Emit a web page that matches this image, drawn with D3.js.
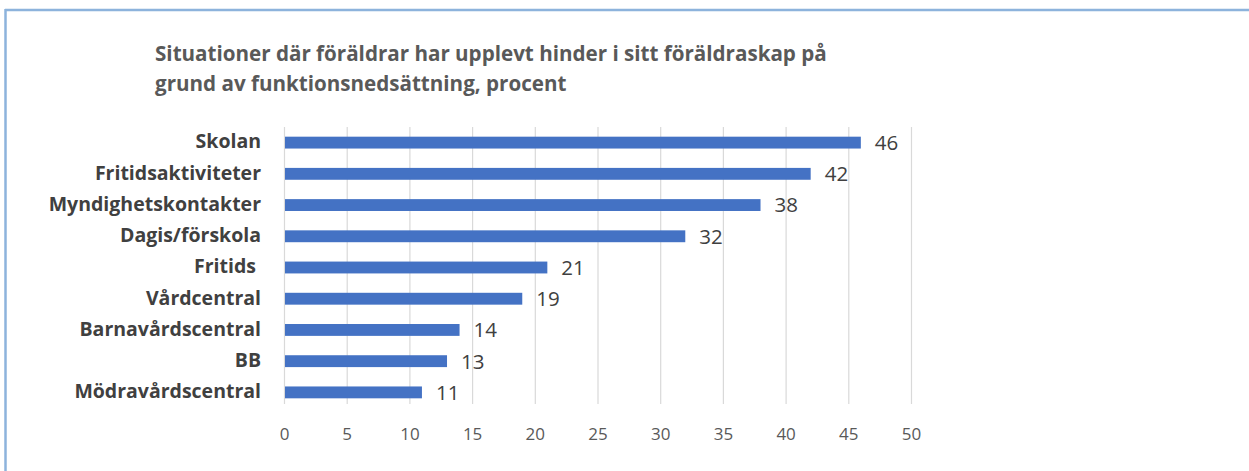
<!DOCTYPE html>
<html><head><meta charset="utf-8">
<script src="https://cdn.jsdelivr.net/npm/d3@7"></script>
<style>body{margin:0;background:#fff}svg{display:block}</style>
</head><body>
<script>
const categories = ["Skolan","Fritidsaktiviteter","Myndighetskontakter","Dagis/förskola","Fritids ","Vårdcentral","Barnavårdscentral","BB","Mödravårdscentral"];
const values = [46,42,38,32,21,19,14,13,11];
const ticks = [0,5,10,15,20,25,30,35,40,45,50];
const titleLines = ["Situationer där föräldrar har upplevt hinder i sitt föräldraskap på","grund av funktionsnedsättning, procent"];

const W=1249,H=471;
const svg=d3.select("body").append("svg").attr("width",W).attr("height",H);
const font="'Open Sans', Lato, sans-serif";

// frame
svg.append("line").attr("x1",5).attr("x2",W).attr("y1",10).attr("y2",10).attr("stroke","#8db3dc").attr("stroke-width",2.5);
svg.append("line").attr("x1",5.5).attr("x2",5.5).attr("y1",9).attr("y2",H).attr("stroke","#8db3dc").attr("stroke-width",2.5);

const x=d3.scaleLinear().domain([0,50]).range([284,911]);
const y=d3.scaleBand().domain(categories).range([127,408]).paddingInner(0.62).paddingOuter(0.31);

// gridlines
svg.append("g").selectAll("line").data(ticks).join("line")
 .attr("x1",d=>x(d)+0.5).attr("x2",d=>x(d)+0.5).attr("y1",127).attr("y2",404)
 .attr("stroke","#d9d9d9").attr("stroke-width",1.2);

// x axis
const xa=svg.append("g").attr("transform","translate(0,404)").call(d3.axisBottom(x).tickValues(ticks).tickSize(0).tickPadding(24));
xa.select(".domain").remove();
xa.selectAll("text").attr("font-family",font).attr("font-size",17).attr("fill","#595959");

// bars
svg.append("g").selectAll("rect").data(values).join("rect")
 .attr("x",x(0)+1).attr("y",(d,i)=>y(categories[i])).attr("height",y.bandwidth())
 .attr("width",d=>x(d)-x(0)-1).attr("fill","#4472c4");

// value labels
svg.append("g").selectAll("text").data(values).join("text")
 .attr("x",d=>x(d)+14).attr("y",(d,i)=>y(categories[i])+y.bandwidth()/2).attr("dy","0.36em")
 .attr("font-family",font).attr("font-size",20.5).attr("fill","#404040").text(d=>d);

// y axis labels
const ya=svg.append("g").attr("transform","translate(284,0)").call(d3.axisLeft(y).tickSize(0).tickPadding(23));
ya.select(".domain").remove();
ya.selectAll("text").attr("font-family",font).attr("font-size",19.5).attr("font-weight","bold").attr("fill","#404040").attr("dy","0.3em").style("white-space","pre");

// title
svg.append("g").selectAll("text").data(titleLines).join("text")
 .attr("x",155).attr("y",(d,i)=>61+i*30).attr("font-family",font).attr("font-size",20.6)
 .attr("font-weight","bold").attr("fill","#595959").text(d=>d);
</script>
</body></html>
